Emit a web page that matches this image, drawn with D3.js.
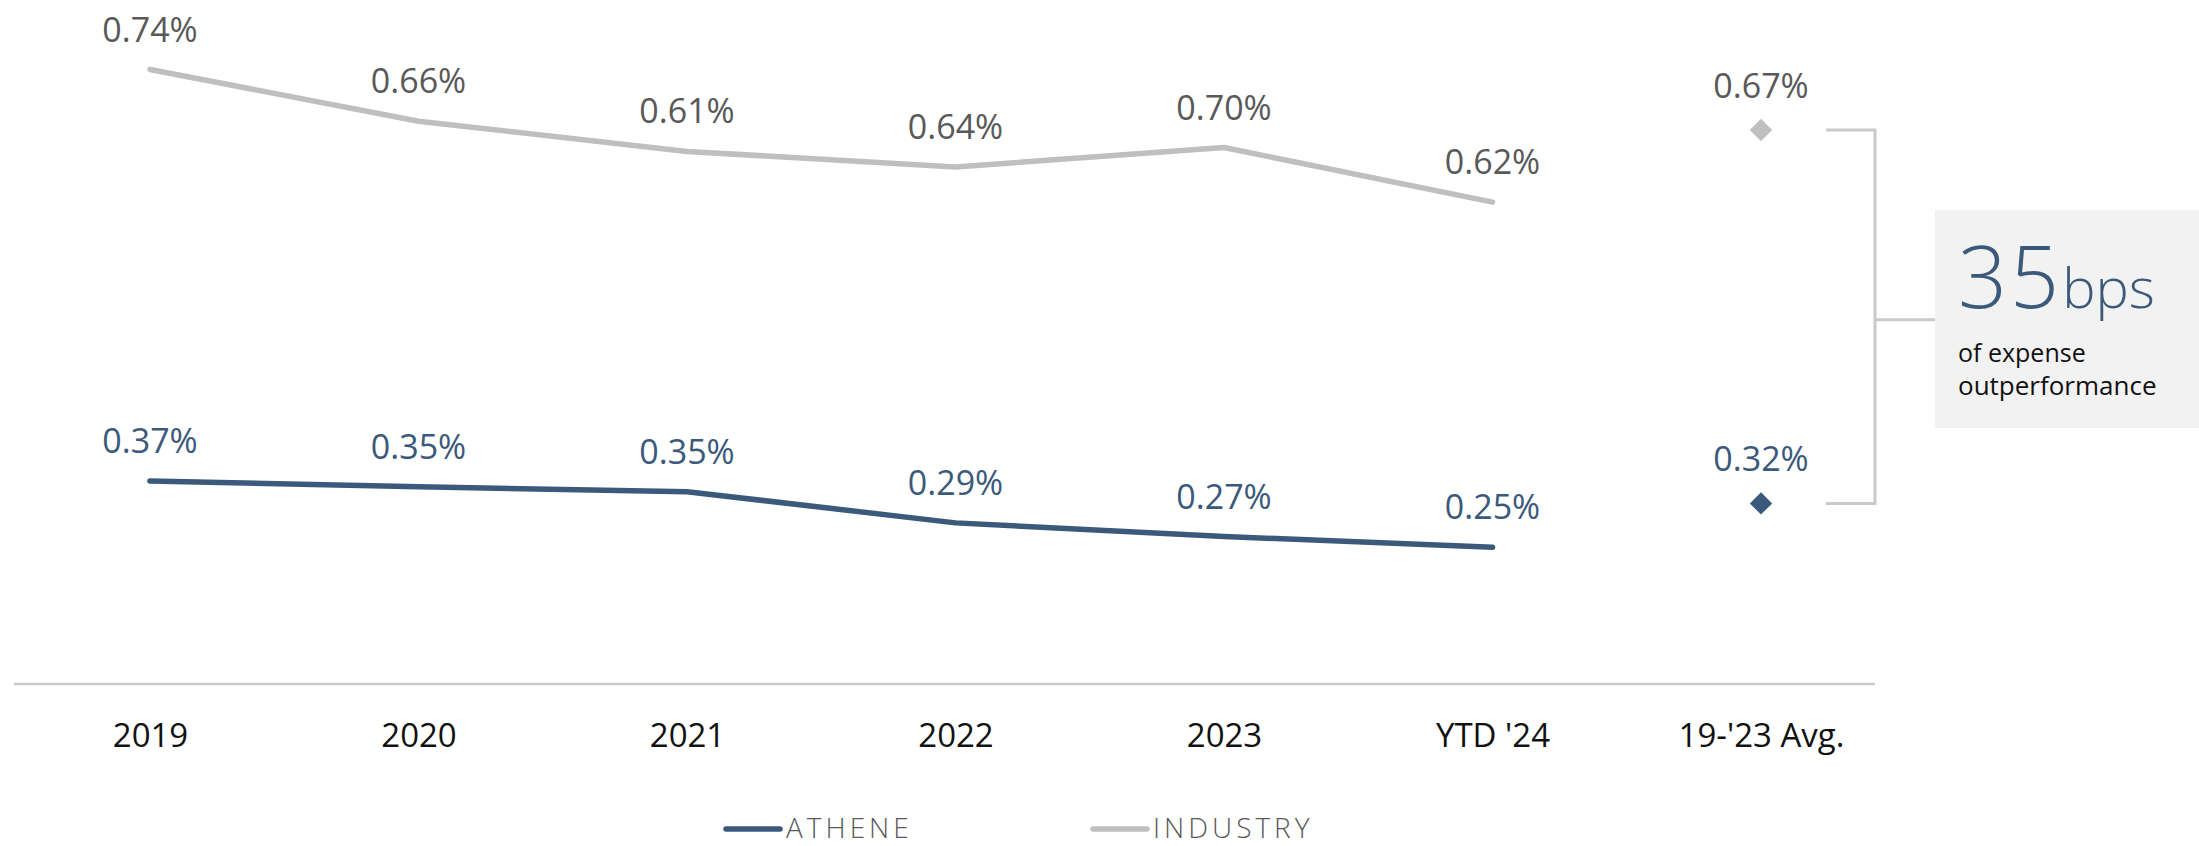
<!DOCTYPE html>
<html lang="en">
<head>
    <meta charset="UTF-8">
    <script src="https://cdn.jsdelivr.net/npm/d3@7"></script>
    <title>Expense ratio</title>
    <style>
        body { margin: 0; background: #fff; }
        text { font-family: 'Open Sans', 'Noto Sans', sans-serif; }
    </style>
</head>
<body>
    <svg width="2199" height="846"></svg>

    <script>
        // categories on the x axis
        const categories = ['2019', '2020', '2021', '2022', '2023', "YTD '24", "19-'23 Avg."]
        const lineCats = categories.slice(0, 6)
        const avgCat = categories[6]

        // plotted heights (percent)
        const industryValues = [0.740, 0.687, 0.656, 0.640, 0.660, 0.604]
        const atheneValues = [0.318, 0.312, 0.307, 0.275, 0.261, 0.250]
        const industryAvg = 0.678
        const atheneAvg = 0.295

        // printed labels
        const industryLabels = ['0.74%', '0.66%', '0.61%', '0.64%', '0.70%', '0.62%']
        const atheneLabels = ['0.37%', '0.35%', '0.35%', '0.29%', '0.27%', '0.25%']
        const industryAvgLabel = '0.67%'
        const atheneAvgLabel = '0.32%'

        const seriesNames = ['ATHENE', 'INDUSTRY']

        const navy = '#3b5a7b', grey = '#bfbfbf', labelGrey = '#595959'

        const svg = d3.select('svg')

        const xScale = d3.scalePoint()
            .domain(categories)
            .range([150, 1761])

        const yScale = d3.scaleLinear()
            .domain([0.2, 0.8])
            .range([596, 11])

        // baseline
        svg.append('line')
            .attr('x1', 14).attr('x2', 1875)
            .attr('y1', 684).attr('y2', 684)
            .attr('stroke', '#c9c9c9').attr('stroke-width', 2.5)

        // x axis labels
        const xAxis = d3.axisBottom(xScale).tickSize(0).tickPadding(0)
        const ax = svg.append('g')
            .attr('transform', 'translate(0, 747)')
            .call(xAxis)
        ax.select('.domain').remove()
        ax.selectAll('text')
            .attr('dy', 0)
            .attr('font-size', 33)
            .attr('font-family', "'Open Sans', sans-serif")
            .attr('fill', '#111')

        const line = d3.line()
            .x((d, i) => xScale(lineCats[i]))
            .y(d => yScale(d))

        svg.append('path')
            .datum(industryValues)
            .attr('d', line)
            .attr('fill', 'none')
            .attr('stroke', grey)
            .attr('stroke-width', 5.5)
            .attr('stroke-linecap', 'round')
            .attr('stroke-linejoin', 'round')

        svg.append('path')
            .datum(atheneValues)
            .attr('d', line)
            .attr('fill', 'none')
            .attr('stroke', navy)
            .attr('stroke-width', 5.5)
            .attr('stroke-linecap', 'round')
            .attr('stroke-linejoin', 'round')

        // data labels
        function labels(values, texts, color) {
            svg.append('g')
                .selectAll('text')
                .data(values)
                .enter()
                .append('text')
                .attr('x', (d, i) => xScale(lineCats[i]))
                .attr('y', d => yScale(d) - 28)
                .attr('text-anchor', 'middle')
                .attr('font-size', 34)
                .attr('fill', color)
                .text((d, i) => texts[i])
        }
        labels(industryValues, industryLabels, labelGrey)
        labels(atheneValues, atheneLabels, navy)

        // averages as diamonds
        const diamond = d3.symbol().type(d3.symbolDiamond2).size(320)
        const avgs = [
            { v: industryAvg, t: industryAvgLabel, c: grey, tc: labelGrey },
            { v: atheneAvg, t: atheneAvgLabel, c: navy, tc: navy }
        ]
        svg.append('g')
            .selectAll('path')
            .data(avgs)
            .enter()
            .append('path')
            .attr('d', diamond)
            .attr('transform', d => `translate(${xScale(avgCat)}, ${yScale(d.v)})`)
            .attr('fill', d => d.c)
        svg.append('g')
            .selectAll('text')
            .data(avgs)
            .enter()
            .append('text')
            .attr('x', xScale(avgCat))
            .attr('y', d => yScale(d.v) - 32)
            .attr('text-anchor', 'middle')
            .attr('font-size', 34)
            .attr('fill', d => d.tc)
            .text(d => d.t)

        // bracket between the two averages
        const yTop = yScale(industryAvg), yBot = yScale(atheneAvg)
        const bx = 1875
        svg.append('path')
            .attr('d', `M1826,${yTop}H${bx}V${yBot}H1826M${bx},${(yTop + yBot) / 2 + 3}H1935`)
            .attr('fill', 'none')
            .attr('stroke', '#c9c9c9')
            .attr('stroke-width', 3)

        // callout box
        svg.append('rect')
            .attr('x', 1935).attr('y', 210)
            .attr('width', 264).attr('height', 218)
            .attr('fill', '#f2f2f2')

        const big = svg.append('text')
            .attr('x', 1958).attr('y', 308)
            .attr('fill', navy)
        big.append('tspan')
            .attr('font-size', 86)
            .attr('font-weight', 300)
            .attr('letter-spacing', 3)
            .text('35')
        big.append('tspan')
            .attr('font-size', 56)
            .attr('font-weight', 300)
            .text('bps')

        svg.append('text')
            .attr('x', 1958).attr('y', 362)
            .attr('font-size', 25)
            .attr('fill', '#111')
            .text('of expense')
        svg.append('text')
            .attr('x', 1958).attr('y', 395)
            .attr('font-size', 26)
            .attr('fill', '#111')
            .text('outperformance')

        // legend
        const legendX = [726, 1093]
        const legend = svg.append('g')
            .selectAll('g')
            .data(seriesNames)
            .enter()
            .append('g')
            .attr('transform', (d, i) => `translate(${legendX[i]}, 829)`)
        legend.append('line')
            .attr('x1', 0).attr('x2', 54)
            .attr('stroke', (d, i) => i === 0 ? navy : grey)
            .attr('stroke-width', 5.5)
            .attr('stroke-linecap', 'round')
        legend.append('text')
            .attr('x', 60).attr('y', 9)
            .attr('font-size', 28)
            .attr('font-weight', 300)
            .attr('letter-spacing', 4)
            .attr('fill', labelGrey)
            .text(d => d)
    </script>
</body>
</html>
